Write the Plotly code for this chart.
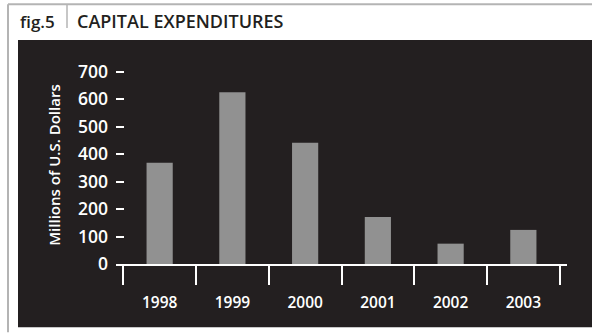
import plotly.graph_objects as go

years = ["1998", "1999", "2000", "2001", "2002", "2003"]
capex = [368, 625, 441, 171, 74, 124]
y_ticks = [0, 100, 200, 300, 400, 500, 600, 700]

W, H = 592, 333
L, R, T, B = 116, 567, 66, 264.5

def px(x):
    return (x - L) / (R - L)

def py(y):
    return (B - y) / (B - T)

DARK = "#231F20"
FONT = "Open Sans"

fig = go.Figure(go.Bar(x=years, y=capex, marker=dict(color="#919191", line=dict(width=0)),
                       width=0.36))

fig.update_layout(
    width=W, height=H,
    margin=dict(l=L, r=W - R, t=T, b=H - B, pad=0),
    paper_bgcolor="white",
    plot_bgcolor="rgba(0,0,0,0)",
    showlegend=False,
    font=dict(family=FONT, color="white"),
    xaxis=dict(
        type="category", range=[-0.6, 5.6], tickson="boundaries",
        showline=True, linecolor="white", linewidth=2,
        ticks="outside", ticklen=19, tickwidth=2, tickcolor="white",
        showgrid=False, zeroline=False,
        tickfont=dict(family=FONT, size=15.5, color="white", weight=600),
        ticklabelstandoff=23,
    ),
    yaxis=dict(
        range=[0, 720], tickvals=y_ticks, ticktext=[str(v) for v in y_ticks],
        ticks="inside", ticklen=8, tickwidth=2, tickcolor="white",
        showline=False, showgrid=False, zeroline=False,
        tickfont=dict(family=FONT, size=17.5, color="white", weight=600),
        ticklabelstandoff=7,
        title=dict(text="Millions of U.S. Dollars", standoff=13,
                   font=dict(family=FONT, size=15, color="white", weight=600)),
    ),
    shapes=[
        dict(type="rect", xref="paper", yref="paper", x0=px(18), x1=px(592), y0=py(40), y1=py(328),
             fillcolor=DARK, line=dict(width=0), layer="below"),
        dict(type="line", xref="paper", yref="paper", x0=px(8), x1=px(592), y0=py(4), y1=py(4),
             line=dict(color="#b4b4b4", width=2)),
        dict(type="line", xref="paper", yref="paper", x0=px(8), x1=px(8), y0=py(4), y1=py(333),
             line=dict(color="#b4b4b4", width=2)),
        dict(type="line", xref="paper", yref="paper", x0=px(67), x1=px(67), y0=py(4), y1=py(28),
             line=dict(color="#b4b4b4", width=1.5)),
    ],
    annotations=[
        dict(text="fig.5", xref="paper", yref="paper", x=px(18), y=py(21), xanchor="left", yanchor="middle",
             showarrow=False, font=dict(family=FONT, size=17, color=DARK, weight=600)),
        dict(text="CAPITAL EXPENDITURES", xref="paper", yref="paper", x=px(75), y=py(21), xanchor="left",
             yanchor="middle", showarrow=False, font=dict(family=FONT, size=18, color=DARK, weight=600)),
    ],
)

fig.write_html("out.html")
